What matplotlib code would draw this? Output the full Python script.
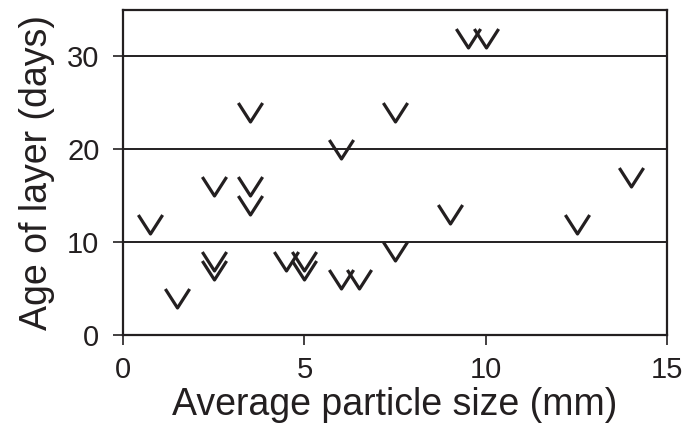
import numpy as np
import matplotlib
matplotlib.use("Agg")
import matplotlib.pyplot as plt
from matplotlib.path import Path

# particle size (mm) vs age of layer (days)
particle_size = [0.75, 1.5, 2.5, 2.5, 2.5, 3.5, 3.5, 3.5, 4.5, 5.0, 5.0,
                 6.0, 6.5, 6.0, 7.5, 7.5, 9.0, 9.5, 10.0, 12.5, 14.0]
layer_age = [12, 4, 16, 8, 7, 24, 16, 14, 8, 8, 7,
             6, 6, 20, 24, 9, 13, 32, 32, 12, 17]

x_ticks = [0, 5, 10, 15]
y_ticks = [0, 10, 20, 30]

ink = '#231f20'
plt.rcParams['font.family'] = ['Liberation Sans', 'DejaVu Sans']

# open chevron marker
chevron = Path([(-1, 0.78), (0, -0.78), (1, 0.78)],
               [Path.MOVETO, Path.LINETO, Path.LINETO])

fig = plt.figure(figsize=(6.95, 4.26), dpi=100)
ax = fig.add_axes([0.177, 0.2136, 0.783, 0.763])

for yv in y_ticks[1:]:
    ax.axhline(yv, color=ink, lw=1.4, zorder=1)

ax.plot(particle_size, layer_age, linestyle='none', marker=chevron,
        markersize=17.5, markerfacecolor='none', markeredgecolor=ink,
        markeredgewidth=2.3, zorder=3)

ax.set_xlim(0, 15)
ax.set_ylim(0, 35)
ax.set_xticks(x_ticks)
ax.set_yticks(y_ticks)
ax.tick_params(direction='out', length=7, width=1.2, colors=ink,
               labelsize=21, labelcolor=ink)
ax.tick_params(axis='y', pad=10)
ax.tick_params(axis='x', pad=8)
for s in ax.spines.values():
    s.set_color(ink)
    s.set_linewidth(1.6)

ax.set_xlabel('Average particle size (mm)', fontsize=27, color=ink, labelpad=2)
ax.set_ylabel('Age of layer (days)', fontsize=27, color=ink, labelpad=9)

fig.savefig('out.png', dpi=100)
